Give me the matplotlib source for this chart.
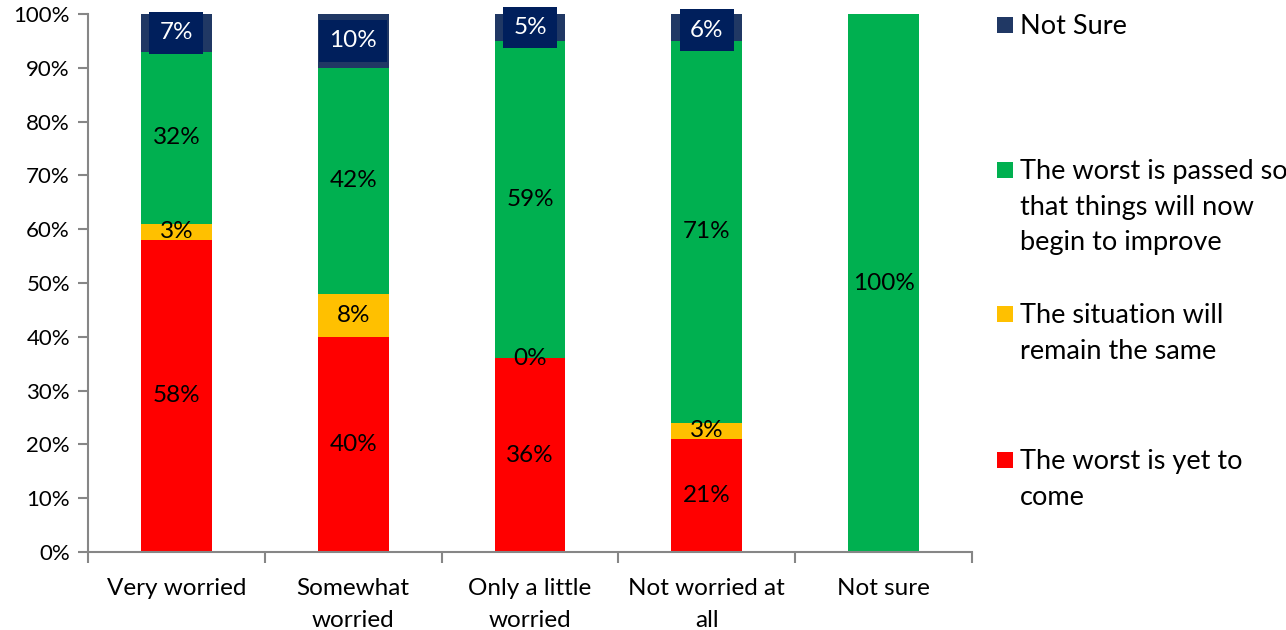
import matplotlib
matplotlib.use("Agg")
import matplotlib.pyplot as plt
import numpy as np

plt.rcParams['font.family'] = ['Lato', 'DejaVu Sans']

categories = ["Very worried", "Somewhat\nworried", "Only a little\nworried",
              "Not worried at\nall", "Not sure"]
worst_to_come = [58, 40, 36, 21, 0]
remain_same = [3, 8, 0, 3, 0]
worst_passed = [32, 42, 59, 71, 100]
not_sure = [7, 10, 5, 6, 0]

series = [
    ("The worst is yet to\ncome", worst_to_come, "#ff0000"),
    ("The situation will\nremain the same", remain_same, "#ffc000"),
    ("The worst is passed so\nthat things will now\nbegin to improve", worst_passed, "#00b050"),
    ("Not Sure", not_sure, "#203864"),
]

fig = plt.figure(figsize=(12.86, 6.30), dpi=100)
ax = fig.add_axes([88 / 1286, 1 - 552 / 630, (972 - 88) / 1286, (552 - 14) / 630])

x = np.arange(len(categories))
width = 0.40
bottom = np.zeros(len(categories))
axis_gray = "#868686"
label_size = 17.5

for name, vals, color in series:
    vals = np.array(vals, dtype=float)
    ax.bar(x, vals, width, bottom=bottom, color=color, edgecolor="none", zorder=2)
    for i, v in enumerate(vals):
        show = v > 0 or (name.startswith("The situation") and worst_passed[i] > 0 and worst_to_come[i] > 0)
        if not show:
            continue
        if name == "Not Sure":
            yc = min(bottom[i] + v / 2, 100 - v / 2)
            ax.text(x[i], yc, f"{int(v)}%", ha="center", va="center", fontsize=label_size,
                    color="white", zorder=4, clip_on=False,
                    bbox=dict(boxstyle="square,pad=0.42", facecolor="#001f5c",
                              edgecolor="none"))
        else:
            yc = bottom[i] + v / 2
            ax.text(x[i], yc, f"{int(v)}%", ha="center", va="center", fontsize=label_size,
                    color="black", zorder=4)
    bottom = bottom + vals

ax.set_xlim(-0.5, len(categories) - 0.5)
ax.set_ylim(0, 100)
ax.set_yticks(np.arange(0, 101, 10))
ax.set_yticklabels([f"{t}%" for t in range(0, 101, 10)], fontsize=16)
ax.set_xticks(x)
ax.set_xticklabels(categories, fontsize=17.5, linespacing=1.6)
ax.set_xticks(np.arange(-0.5, len(categories), 1), minor=True)
ax.tick_params(axis="x", which="major", length=0, pad=19)
ax.tick_params(axis="x", which="minor", length=8, color=axis_gray, width=1.5)
ax.tick_params(axis="y", length=7, color=axis_gray, width=1.5, pad=6)

for side in ["top", "right"]:
    ax.spines[side].set_visible(False)
for side in ["left", "bottom"]:
    ax.spines[side].set_color(axis_gray)
    ax.spines[side].set_linewidth(1.5)

# legend drawn as squares and wrapped text on the right
legend_entries = [
    ("Not Sure", "#203864", 25),
    ("The worst is passed so\nthat things will now\nbegin to improve", "#00b050", 170),
    ("The situation will\nremain the same", "#ffc000", 314),
    ("The worst is yet to\ncome", "#ff0000", 460),
]
for text, color, ytop in legend_entries:
    fig.patches.append(plt.Rectangle((997 / 1286, 1 - (ytop + 8) / 630), 16 / 1286, 16 / 630,
                                     transform=fig.transFigure, facecolor=color,
                                     edgecolor="none"))
    fig.text(1020 / 1286, 1 - (ytop - 11) / 630, text, ha="left", va="top",
             fontsize=19.5, linespacing=1.53)

fig.savefig("out.png", dpi=100)
